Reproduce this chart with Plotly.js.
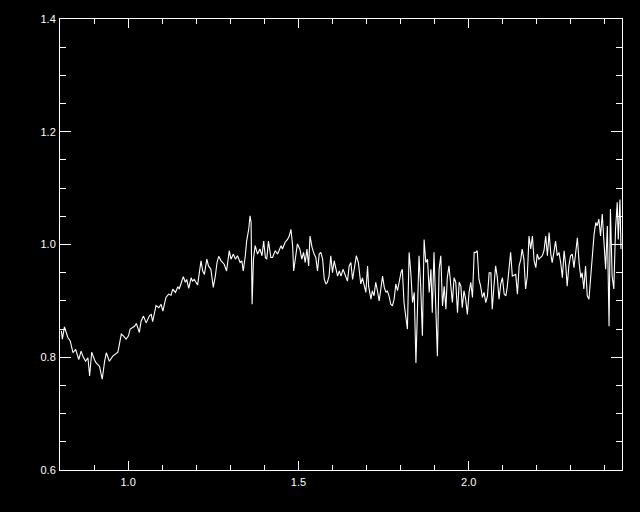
<!DOCTYPE html>
<html>
<head>
<meta charset="utf-8">
<script src="https://cdn.plot.ly/plotly-3.0.1.min.js"></script>
<style>html,body{margin:0;padding:0;background:#000;}#chart{width:640px;height:512px;}</style>
</head>
<body>
<div id="chart"></div>
<script>
// wavelength (x) and flux (y)
const wavelength = [
0.804,0.807,0.813,0.818,0.823,0.830,0.838,0.846,0.855,0.862,0.867,0.875,0.882,0.887,0.893,0.901,0.906,0.916,0.924,0.931,
0.936,0.945,0.955,0.970,0.980,0.986,0.994,1.001,1.006,1.019,1.024,1.033,1.038,1.045,1.053,1.063,1.068,1.072,1.082,1.090,
1.097,1.102,1.111,1.119,1.126,1.131,1.139,1.146,1.150,1.155,1.162,1.168,1.172,1.178,1.185,1.189,1.194,1.204,1.214,1.219,
1.224,1.231,1.236,1.243,1.250,1.256,1.261,1.266,1.273,1.282,1.289,1.297,1.302,1.309,1.315,1.321,1.329,1.334,1.338,1.344,
1.348,1.354,1.358,1.361,1.364,1.368,1.373,1.380,1.387,1.393,1.398,1.403,1.407,1.412,1.419,1.424,1.432,1.439,1.444,1.449,
1.453,1.461,1.468,1.473,1.478,1.483,1.486,1.493,1.497,1.504,1.510,1.515,1.520,1.525,1.530,1.534,1.540,1.546,1.551,1.556,
1.561,1.566,1.571,1.576,1.581,1.585,1.590,1.595,1.600,1.605,1.610,1.615,1.620,1.625,1.631,1.637,1.644,1.649,1.654,1.659,
1.664,1.670,1.676,1.683,1.688,1.693,1.698,1.703,1.706,1.713,1.717,1.722,1.727,1.732,1.737,1.742,1.747,1.752,1.757,1.761,
1.766,1.771,1.776,1.781,1.786,1.791,1.796,1.801,1.805,1.810,1.815,1.820,1.825,1.830,1.835,1.840,1.845,1.849,1.854,1.859,
1.864,1.869,1.874,1.879,1.884,1.889,1.893,1.898,1.903,1.908,1.913,1.918,1.923,1.928,1.933,1.937,1.942,1.947,1.952,1.957,
1.962,1.967,1.972,1.977,1.981,1.986,1.991,1.996,2.001,2.006,2.011,2.016,2.021,2.025,2.030,2.035,2.040,2.045,2.050,2.055,
2.060,2.065,2.069,2.074,2.079,2.084,2.089,2.094,2.099,2.104,2.109,2.113,2.118,2.123,2.128,2.133,2.138,2.143,2.148,2.153,
2.157,2.162,2.167,2.172,2.177,2.182,2.187,2.192,2.197,2.201,2.206,2.211,2.216,2.221,2.226,2.231,2.236,2.241,2.245,2.250,
2.255,2.260,2.265,2.270,2.275,2.280,2.285,2.289,2.294,2.299,2.304,2.309,2.314,2.319,2.324,2.329,2.333,2.338,2.343,2.348,
2.353,2.358,2.363,2.368,2.373,2.377,2.382,2.387,2.392,2.397,2.402,2.407,2.412,2.416,2.421,2.426,2.431,2.436,2.439,2.444,
2.447
];
const flux = [
0.847,0.832,0.854,0.844,0.835,0.829,0.808,0.814,0.796,0.811,0.802,0.793,0.799,0.767,0.809,0.796,0.790,0.784,0.761,0.793,
0.808,0.793,0.802,0.809,0.841,0.838,0.832,0.838,0.850,0.855,0.860,0.844,0.864,0.873,0.861,0.874,0.876,0.863,0.892,0.888,
0.894,0.882,0.906,0.912,0.910,0.921,0.915,0.925,0.921,0.930,0.943,0.933,0.938,0.922,0.941,0.935,0.938,0.928,0.971,0.953,
0.947,0.974,0.962,0.956,0.924,0.944,0.968,0.979,0.971,0.965,0.953,0.989,0.974,0.983,0.974,0.980,0.968,0.971,0.953,0.980,
1.006,1.027,1.051,1.039,0.894,0.974,0.998,0.983,0.992,0.980,1.006,0.977,0.974,1.006,0.977,0.977,0.989,0.983,0.992,0.998,
0.992,1.004,1.009,1.015,1.027,0.998,0.953,0.983,1.001,0.992,0.974,0.986,0.968,0.992,0.962,1.015,0.995,0.983,0.977,0.953,
0.983,0.986,0.974,0.938,0.930,0.933,0.944,0.980,0.950,0.971,0.959,0.944,0.953,0.944,0.956,0.947,0.935,0.962,0.968,0.938,
0.956,0.980,0.968,0.930,0.941,0.926,0.915,0.962,0.926,0.903,0.918,0.909,0.933,0.918,0.900,0.921,0.944,0.924,0.915,0.918,
0.909,0.894,0.891,0.903,0.930,0.918,0.935,0.950,0.956,0.897,0.873,0.850,0.986,0.950,0.897,0.915,0.790,0.867,0.980,0.926,
0.838,1.009,0.968,0.974,0.915,0.956,0.879,0.986,0.891,0.802,0.956,0.980,0.891,0.926,0.885,0.941,0.962,0.926,0.897,0.941,
0.933,0.879,0.933,0.926,0.888,0.918,0.903,0.876,0.915,0.933,0.906,0.986,0.986,0.989,0.938,0.926,0.906,0.915,0.897,0.909,
0.950,0.950,0.885,0.926,0.962,0.941,0.903,0.930,0.941,0.912,0.909,0.924,0.950,0.986,0.944,0.945,0.947,0.912,0.962,0.974,
0.992,0.974,0.921,0.944,1.015,0.992,1.015,0.971,0.959,0.983,0.974,0.977,0.980,0.989,1.015,0.980,1.021,0.983,0.968,0.986,
1.006,0.980,0.986,0.968,0.941,0.989,0.962,0.926,0.962,0.980,0.983,0.959,0.992,1.012,0.968,0.941,0.950,0.921,0.962,0.909,
0.903,0.944,0.980,1.018,1.039,1.033,1.045,1.015,1.054,0.998,0.956,1.033,0.855,1.063,0.944,0.921,1.027,1.075,1.009,1.080,
0.992
];
const xRange = [0.8, 2.45];
const yRange = [0.6, 1.4];
const xTickVals = [1.0, 1.5, 2.0];
const xTickText = ['1.0', '1.5', '2.0'];
const yTickVals = [0.6, 0.8, 1.0, 1.2, 1.4];
const yTickText = ['0.6', '0.8', '1.0', '1.2', '1.4'];

const trace = {
  x: wavelength, y: flux, type: 'scatter', mode: 'lines',
  line: {color: '#ffffff', width: 1.1}, hoverinfo: 'skip'
};
const tickFont = {family: 'Liberation Sans, Arial, sans-serif', size: 11, color: '#ffffff'};
const layout = {
  width: 640, height: 512,
  paper_bgcolor: '#000000', plot_bgcolor: '#000000',
  margin: {l: 60, r: 18, t: 19, b: 42, pad: 0},
  showlegend: false,
  xaxis: {
    range: xRange, showgrid: false, zeroline: false,
    showline: true, linecolor: '#ffffff', linewidth: 1, mirror: 'allticks',
    ticks: 'inside', ticklen: 9, tickcolor: '#ffffff', tickwidth: 1,
    tickvals: xTickVals, ticktext: xTickText, tickfont: tickFont,
    ticklabelstandoff: 2,
    minor: {dtick: 0.1, tick0: 0.8, ticks: 'inside', ticklen: 5, tickcolor: '#ffffff', tickwidth: 1, showgrid: false}
  },
  yaxis: {
    range: yRange, showgrid: false, zeroline: false,
    showline: true, linecolor: '#ffffff', linewidth: 1, mirror: 'allticks',
    ticks: 'inside', ticklen: 11, tickcolor: '#ffffff', tickwidth: 1,
    tickvals: yTickVals, ticktext: yTickText, tickfont: tickFont,
    ticklabelstandoff: 1,
    minor: {dtick: 0.05, tick0: 0.6, ticks: 'inside', ticklen: 6, tickcolor: '#ffffff', tickwidth: 1, showgrid: false}
  }
};
Plotly.newPlot('chart', [trace], layout, {displayModeBar: false, staticPlot: true});
</script>
</body>
</html>
